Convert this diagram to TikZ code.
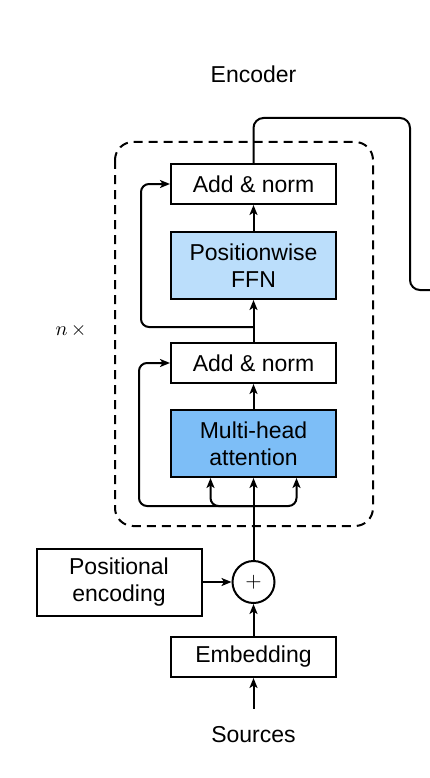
\documentclass[tikz,border=0pt]{standalone}
\usepackage{fontspec}
\setmainfont{Liberation Sans}
\usetikzlibrary{positioning,calc,arrows.meta}
\definecolor{ffnblue}{RGB}{187,222,251}
\definecolor{attblue}{RGB}{125,190,247}
\begin{document}
\begin{tikzpicture}[x=1pt, y=1pt, line width=2pt,
		font=\fontsize{23}{27}\selectfont,
		box/.style = {draw, minimum width=165pt, minimum height=40pt, align=center},
		tall/.style = {box, minimum height=67pt},
		arr/.style = {-{Stealth[length=10pt, width=8pt, inset=2.5pt]}}]
		\useasboundingbox (0,0) rectangle (430,-778);
		\node[box] (emb) at (253.5,-657) {Embedding};
		\node[draw, circle, minimum size=42pt, inner sep=0pt] (plus) [above=32pt of emb] {\normalsize\scalebox{2.1}{$+$}};
		\node[tall] (pos) [left=29pt of plus] {Positional\\encoding};
		\node[tall, fill=attblue] (mha) [above=82pt of plus] {Multi-head\\attention};
		\node[box] (an1) [above=25pt of mha] {Add \& norm};
		\node[tall, fill=ffnblue] (ffn) [above=42pt of an1] {Positionwise\\FFN};
		\node[box] (an2) [above=26pt of ffn] {Add \& norm};
		\node (enc) at (253.5,-74) {Encoder};
		\node (src) at (253.5,-735) {Sources};
		\node (rep) at (71,-330) {\normalsize\scalebox{2.0}{$n\,\times$}};
		\draw[dashed, dash pattern=on 9pt off 6pt, rounded corners=18pt] (115,-142) rectangle (373,-526);
		\coordinate (fork) at ($(mha.south)+(0,-28pt)$);
		\coordinate (split) at ($(an1.north)+(0,15pt)$);
		\coordinate (turn) at (410,-118);
		\coordinate (out) at (432,-290);
		\draw[arr] (src) [shorten <=14pt] -- (emb);
		\draw[arr] (emb) -- (plus);
		\draw[arr] (pos) -- (plus);
		\draw[arr] (plus) -- (mha);
		\draw[arr, rounded corners=8pt] (fork) -| ([xshift=-43pt]mha.south);
		\draw[arr, rounded corners=8pt] (fork) -| ([xshift=43pt]mha.south);
		\draw[arr, rounded corners=8pt] (fork) -| ([xshift=-31pt]an1.west) -- (an1.west);
		\draw[arr] (mha) -- (an1);
		\draw[arr] (an1) -- (ffn);
		\draw[arr, rounded corners=8pt] (split) -| ([xshift=-29pt]an2.west) -- (an2.west);
		\draw[arr] (ffn) -- (an2);
		\draw[rounded corners=10pt] (an2.north) |- (turn) |- (out);
	\end{tikzpicture}
\end{document}
